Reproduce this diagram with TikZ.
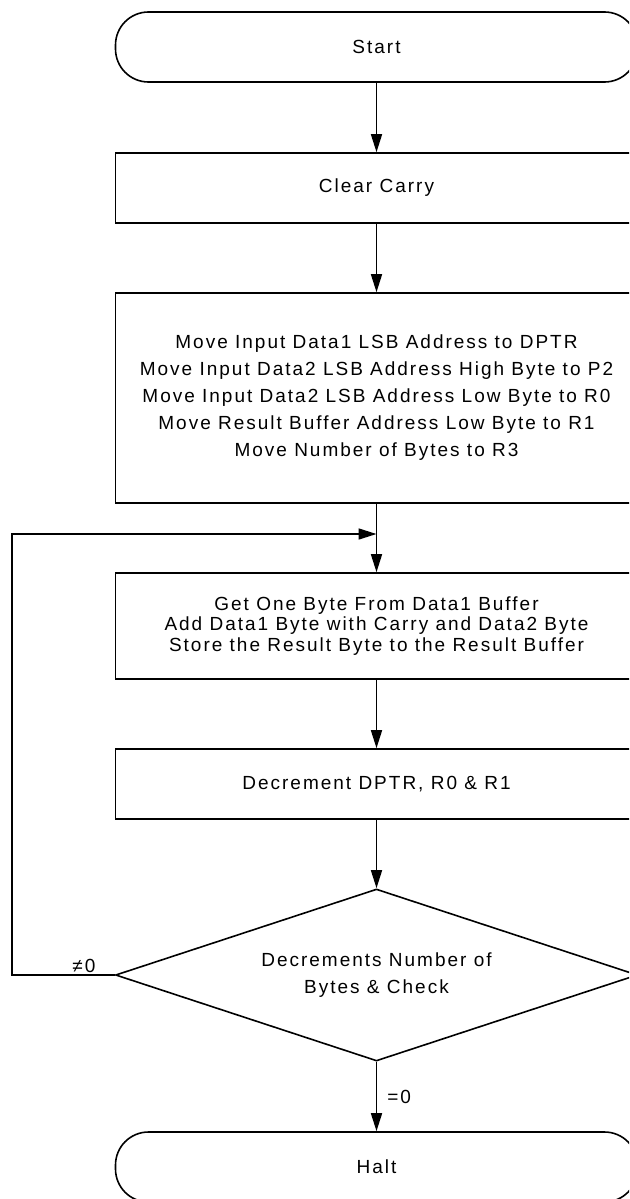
\documentclass[tikz,border=0pt]{standalone}
\usepackage{fontspec}
\setmainfont{Liberation Sans}[LetterSpace=10.5]
\usetikzlibrary{arrows.meta}
\usetikzlibrary{calc}
\usetikzlibrary{positioning}
\usetikzlibrary{shapes.geometric}

\tikzset{
	process/.style={draw, line width=1.6pt, minimum width=522pt, inner sep=0pt, align=center, font=\fontsize{19}{27}\selectfont},
	terminal/.style={process, rounded corners=33pt, minimum height=70pt},
	decision/.style={draw, diamond, line width=1.6pt, aspect=3.03, minimum width=522pt, minimum height=172pt, inner sep=0pt, align=center, font=\fontsize{19}{26.5}\selectfont},
	flow/.style={line width=1.6pt, -{Triangle[length=18pt,width=11pt]}},
	tag/.style={font=\fontsize{19}{20}\selectfont, inner sep=2pt}
}

\begin{document}
\begin{tikzpicture}[x=1pt, y=-1pt]
	\clip (0,0) rectangle (629,1199);
	
	\node[terminal] (start) at (376.5, 47) {Start};
	\node[process, minimum height=70pt] (clear) at (376.5, 188) {Clear Carry};
	\node[process, minimum height=210pt] (init) at (376.5, 398) {Move Input Data1 LSB Address to DPTR\\
		Move Input Data2 LSB Address High Byte to P2\\
		Move Input Data2 LSB Address Low Byte to R0\\
		Move Result Buffer Address Low Byte to R1\\
		Move Number of Bytes to R3};
	\node[process, minimum height=106pt, font=\fontsize{19}{20.5}\selectfont] (add) at (376.5, 626) {Get One Byte From Data1 Buffer\\
		Add Data1 Byte with Carry and Data2 Byte\\
		Store the Result Byte to the Result Buffer};
	\node[process, minimum height=70pt] (dec) at (376.5, 784) {Decrement DPTR, R0 \& R1};
	\node[decision] (check) at (376.5, 975) {Decrements Number of\\Bytes \& Check};
	\node[terminal] (halt) at (376.5, 1167) {Halt};
	
	\coordinate (join) at (376.5, 534);
	
	\draw[flow] (start) -- (clear);
	\draw[flow] (clear) -- (init);
	\draw[flow] (init) -- (add);
	\draw[flow] (add) -- (dec);
	\draw[flow] (dec) -- (check);
	\draw[flow] (check) -- node[tag, right=8pt] {=0} (halt);
	
	% loop back for the next byte
	\draw[flow] (check.west) -- node[tag, above, pos=0.3] {≠0} (12, 975) |- (join);
\end{tikzpicture}
\end{document}
